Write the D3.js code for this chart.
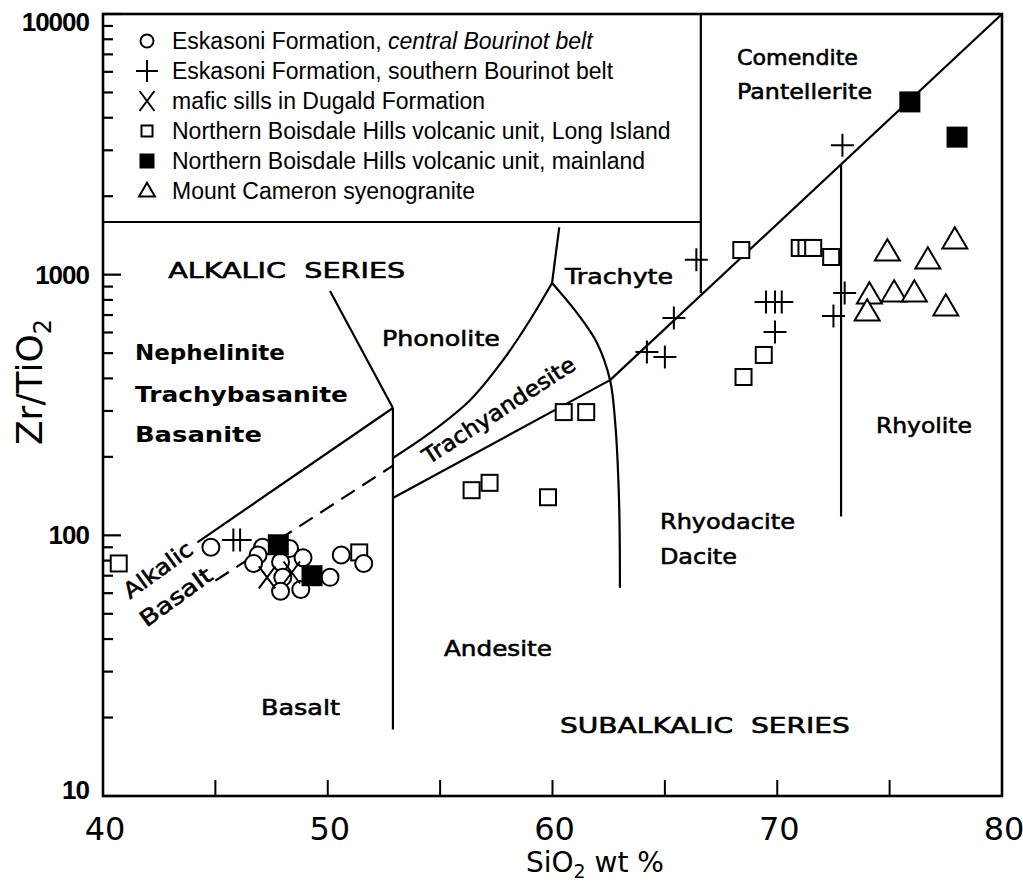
<!DOCTYPE html>
<meta charset="utf-8">
<body style="margin:0;background:#fff">
<script src="https://d3js.org/d3.v7.min.js"></script>
<script>
// samples, [SiO2 wt %, Zr/TiO2]
var centralBourinot = [[44.8,90],[47.1,90],[46.9,84],[46.7,78],[48.3,89],[47.9,79],[48.9,82],[48.0,69],[47.9,61],[48.8,62],[50.1,69],[50.6,84],[51.6,78]];
var southernBourinot = [[45.8,96],[46.1,96],[64.2,505],[65.0,483],[65.4,682],[66.4,1140],[69.5,786],[69.9,786],[70.2,786],[69.9,603],[72.9,3140],[73.0,850],[72.5,694]];
var dugaldSills = [[47.3,69],[48.4,72]];
var longIsland = [[40.7,78],[51.4,86],[56.4,149],[57.2,159],[59.8,140],[60.5,297],[61.5,297],[68.4,1243],[71.0,1266],[71.3,1266],[71.6,1266],[72.4,1169],[69.4,492],[68.5,405]];
var mainland = [[47.8,92],[49.3,70],[75.9,4600],[78.0,3370]];
var mountCameron = [[74.9,1222],[76.7,1138],[77.9,1358],[74.1,836],[75.2,850],[76.1,850],[77.5,751],[74.0,719]];

// field boundaries (Winchester & Floyd), same units
var alkBasaltTop = [[44.2,94],[52.9,308]];
var phonoliteLeft = [[50.1,865],[52.9,308]];
var basaltAndesite = [[52.9,308],[52.9,18]];
var alkBasaltDashed = [[45.0,67],[52.9,185]];
var phonoliteCurve = [[52.9,198],[54.55,247],[56.33,330],[57.8,470],[59.0,670],[59.98,929]];
var phonoliteTrachyte = [[59.98,929],[60.3,1520]];
var trachyteCurve = [[59.98,929],[61.09,713],[61.98,547],[62.56,394],[62.78,277],[62.96,137],[63.0,63]];
var trachyandesiteBase = [[52.9,139],[62.56,394]];
var mainDiagonal = [[62.56,394],[80,10000]];
var comenditeEdge = [[66.6,10000],[66.6,850]];
var rhyoliteEdge = [[72.84,2657],[72.84,118]];

var xTicks = [40,50,60,70,80];
var xMinor = [45,50,55,60,65,70,75];
var yLabels = [10,100,1000,10000];

var legendItems = [
  ["circle","Eskasoni Formation, ","central Bourinot belt"],
  ["plus","Eskasoni Formation, southern Bourinot belt",""],
  ["cross","mafic sills in Dugald Formation",""],
  ["square","Northern Boisdale Hills volcanic unit, Long Island",""],
  ["filled","Northern Boisdale Hills volcanic unit, mainland",""],
  ["triangle","Mount Cameron syenogranite",""]
];

// field names: text, SiO2, Zr/TiO2, width, bold, rotation
var fieldLabels = [
  ["ALKALIC  SERIES",42.9,1040,237,false,0],
  ["Nephelinite",41.42,505,150,true,0],
  ["Trachybasanite",41.42,348,213,true,0],
  ["Basanite",41.42,243,127,true,0],
  ["Phonolite",52.41,567,118,false,0],
  ["Trachyte",60.56,980,108,false,0],
  ["Comendite",68.21,6780,121,false,0],
  ["Pantellerite",68.21,5065,135,false,0],
  ["Rhyolite",74.39,265,96,false,0],
  ["Rhyodacite",64.78,112.5,135,false,0],
  ["Dacite",64.78,83.3,77,false,0],
  ["Andesite",55.17,36.9,108,false,0],
  ["Basalt",47.03,21.8,79,false,0],
  ["SUBALKALIC  SERIES",60.33,18.7,290,false,0],
  ["Trachyandesite",57.62,302,177,false,-33],
  ["Alkalic",42.45,73.6,80,false,-36],
  ["Basalt",43.25,58,84,false,-36]
];

var width = 1023, height = 888;
var x = d3.scaleLinear().domain([40,80]).range([103,1002]);
var y = d3.scaleLog().domain([10,10000]).range([796,14]);

var svg = d3.select("body").append("svg")
    .attr("width", width)
    .attr("height", height)
    .style("font-family", "'Liberation Sans', Arial, sans-serif");

var line = d3.line().x(d => x(d[0])).y(d => y(d[1]));
var curve = d3.line().x(d => x(d[0])).y(d => y(d[1])).curve(d3.curveCatmullRom);

var fields = svg.append("g").attr("fill","none").attr("stroke","#000").attr("stroke-width",2.2);
[alkBasaltTop, phonoliteLeft, basaltAndesite, phonoliteTrachyte, trachyandesiteBase, mainDiagonal, comenditeEdge, rhyoliteEdge].forEach(function(p){
  fields.append("path").attr("d", line(p));
});
[phonoliteCurve, trachyteCurve].forEach(function(p){
  fields.append("path").attr("d", curve(p));
});
fields.append("path").attr("d", line(alkBasaltDashed)).attr("stroke-dasharray","16,9");

// legend box
var legendBottom = 222;
svg.append("path")
  .attr("d", "M" + x(40) + "," + legendBottom + "H" + x(comenditeEdge[0][0]))
  .attr("stroke","#000").attr("stroke-width",2.2);

// frame + axes
svg.append("rect")
  .attr("x", x(40)).attr("y", y(10000))
  .attr("width", x(80) - x(40)).attr("height", y(10) - y(10000))
  .attr("fill","none").attr("stroke","#000").attr("stroke-width",2.6);

var yt = y.ticks();
svg.append("g").selectAll("line").data(yt).enter().append("line")
  .attr("x1", x(40)).attr("x2", d => x(40) + (Math.log10(d) % 1 === 0 ? 18 : 10))
  .attr("y1", d => y(d)).attr("y2", d => y(d))
  .attr("stroke","#000").attr("stroke-width",2.2);

svg.append("g").selectAll("text").data(yLabels).enter().append("text")
  .attr("x", 89)
  .attr("y", d => y(d) + (d === 10000 ? 8 : d === 10 ? -6 : 0))
  .attr("text-anchor","end")
  .attr("dominant-baseline","central")
  .attr("font-weight","bold")
  .attr("font-size", 26)
  .attr("letter-spacing", -1)
  .text(d => d);

svg.append("g").selectAll("line").data(xMinor).enter().append("line")
  .attr("x1", d => x(d)).attr("x2", d => x(d))
  .attr("y1", y(10)).attr("y2", y(10) - 16)
  .attr("stroke","#000").attr("stroke-width",2);

svg.append("g").selectAll("text").data(xTicks).enter().append("text")
  .attr("x", d => x(d) + 2)
  .attr("y", 840)
  .attr("text-anchor","middle")
  .attr("font-family","'DejaVu Sans', sans-serif")
  .attr("font-size", 32)
  .text(d => d);

var xl = svg.append("text")
  .attr("x", 595).attr("y", 872)
  .attr("text-anchor","middle")
  .attr("font-family","'DejaVu Sans', sans-serif")
  .attr("font-size", 28);
xl.append("tspan").text("SiO");
xl.append("tspan").attr("font-size",19).attr("dy",6).text("2");
xl.append("tspan").attr("dy",-6).text(" wt %");

var yl = svg.append("text")
  .attr("transform","translate(42,382) rotate(-90)")
  .attr("text-anchor","middle")
  .attr("font-family","'DejaVu Sans', sans-serif")
  .attr("font-size", 36);
yl.append("tspan").text("Zr/TiO");
yl.append("tspan").attr("font-size",24).attr("dy",9).text("2");

// field names
svg.append("g").selectAll("text").data(fieldLabels).enter().append("text")
  .attr("transform", d => "translate(" + x(d[1]) + "," + y(d[2]) + ") rotate(" + d[5] + ")")
  .attr("text-anchor", d => d[5] ? "middle" : "start")
  .attr("dominant-baseline","central")
  .attr("font-family","'DejaVu Sans', sans-serif")
  .attr("font-size", 22)
  .attr("font-weight", d => d[4] ? "bold" : "normal")
  .attr("stroke", d => d[4] ? "none" : "#000")
  .attr("stroke-width", 0.6)
  .attr("textLength", d => d[3])
  .attr("lengthAdjust","spacingAndGlyphs")
  .style("white-space","pre")
  .text(d => d[0]);

function symbol(g, type, cx, cy, s) {
  var st = {stroke:"#000", "stroke-width":2, fill:"#fff"};
  var el;
  if (type === "circle") {
    el = g.append("circle").attr("cx",cx).attr("cy",cy).attr("r",s/2);
  } else if (type === "square" || type === "filled") {
    el = g.append("rect").attr("x",cx-s/2).attr("y",cy-s/2).attr("width",s).attr("height",s);
  } else if (type === "triangle") {
    var h = s*0.85;
    el = g.append("path").attr("d","M"+cx+","+(cy-h*0.6)+"L"+(cx+s/2)+","+(cy+h*0.4)+"L"+(cx-s/2)+","+(cy+h*0.4)+"Z");
  } else if (type === "plus") {
    el = g.append("path").attr("d","M"+(cx-s/2)+","+cy+"H"+(cx+s/2)+"M"+cx+","+(cy-s/2)+"V"+(cy+s/2));
  } else {
    var a = s/2*0.75;
    el = g.append("path").attr("d","M"+(cx-a)+","+(cy-s/2)+"L"+(cx+a)+","+(cy+s/2)+"M"+(cx+a)+","+(cy-s/2)+"L"+(cx-a)+","+(cy+s/2));
  }
  for (var k in st) el.attr(k, st[k]);
  if (type === "filled") el.attr("fill","#000");
  if (type === "plus" || type === "cross") el.attr("fill","none");
}

var pts = svg.append("g");
var groups = [
  [longIsland,"square",16],
  [centralBourinot,"circle",17],
  [dugaldSills,"cross",22],
  [southernBourinot,"plus",23],
  [mainland,"filled",19],
  [mountCameron,"triangle",25]
];
groups.forEach(function(gr){
  gr[0].forEach(function(d){ symbol(pts, gr[1], x(d[0]), y(d[1]), gr[2]); });
});

// legend rows
var legend = svg.append("g");
var legendSize = {circle:13, plus:22, cross:20, square:11, filled:13, triangle:16};
legendItems.forEach(function(item, i){
  var cy = 41 + i*30;
  symbol(legend, item[0], 147, cy, legendSize[item[0]]);
  var t = legend.append("text").attr("x",172).attr("y",cy)
    .attr("dominant-baseline","central").attr("font-size",23);
  t.append("tspan").text(item[1]);
  if (item[2]) t.append("tspan").attr("font-style","italic").text(item[2]);
});
</script>
</body>
